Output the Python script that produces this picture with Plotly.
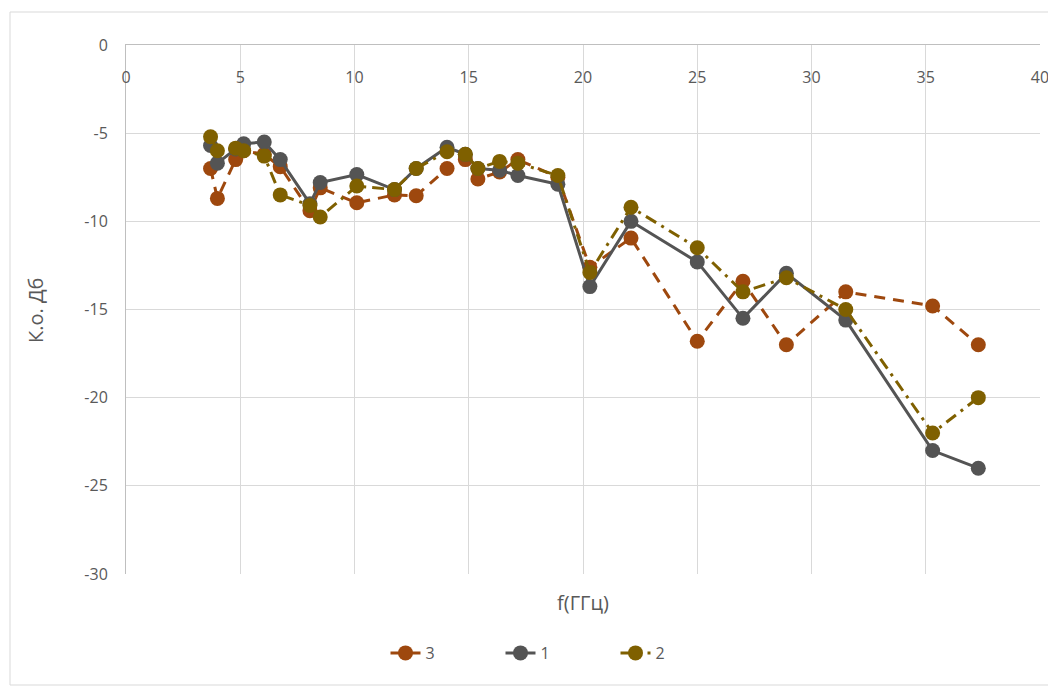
import plotly.graph_objects as go

freq = [3.7, 4.0, 4.8, 5.15, 6.05, 6.75, 8.05, 8.5, 10.1, 11.75, 12.7, 14.05, 14.85,
        15.4, 16.35, 17.15, 18.9, 20.3, 22.1, 25.0, 27.0, 28.9, 31.5, 35.3, 37.3]

s3 = [-7.0, -8.7, -6.5, -6.0, -6.2, -6.9, -9.4, -8.1, -8.95, -8.5, -8.55, -7.0, -6.5,
      -7.6, -7.2, -6.5, -7.5, -12.6, -10.95, -16.8, -13.4, -17.0, -14.0, -14.8, -17.0]
s1 = [-5.7, -6.7, -5.9, -5.6, -5.5, -6.5, -9.0, -7.8, -7.35, -8.2, -7.0, -5.8, -6.2,
      -7.0, -7.1, -7.4, -7.9, -13.7, -10.0, -12.3, -15.5, -12.95, -15.6, -23.0, -24.0]
s2 = [-5.2, -6.0, -5.85, -6.0, -6.3, -8.5, -9.1, -9.75, -8.0, -8.2, -7.0, -6.05, -6.2,
      -7.0, -6.6, -6.7, -7.4, -12.9, -9.2, -11.5, -14.0, -13.2, -15.0, -22.0, -20.0]

names = ["3", "1", "2"]
x_ticks = [0, 5, 10, 15, 20, 25, 30, 35, 40]
y_ticks = [0, -5, -10, -15, -20, -25, -30]
y_ticktext = ["0", "-5", "-10", "-15", "-20", "-25", "-30"]

FONT = "Open Sans"
TXT = "#595959"
fig = go.Figure()
fig.add_trace(go.Scatter(x=freq, y=s3, name=names[0], mode="lines+markers",
                         line=dict(color="#9E480E", width=3, dash="11px,8px"),
                         marker=dict(size=15, color="#9E480E")))
fig.add_trace(go.Scatter(x=freq, y=s1, name=names[1], mode="lines+markers",
                         line=dict(color="#545454", width=3),
                         marker=dict(size=15, color="#545454")))
fig.add_trace(go.Scatter(x=freq, y=s2, name=names[2], mode="lines+markers",
                         line=dict(color="#7F6000", width=3, dash="12px,6px,3px,6px"),
                         marker=dict(size=15, color="#7F6000")))
# invisible trace to carry the label axis (x2)
fig.add_trace(go.Scatter(x=[0, 40], y=[0, 0], xaxis="x2", yaxis="y", mode="markers",
                         marker=dict(opacity=0), showlegend=False, hoverinfo="skip"))

OFF = 8  # page body margin
W, H = 1048, 678
# plot area in screen pixels: x 126..1040, y 45..574
L, T = 126 - OFF, 45 - OFF
R = W - (1040 - OFF)
B = H - (574 - OFF)
pw, ph = W - L - R, H - T - B

def px(xs):
    return (xs - OFF - L) / pw

def py(ys):
    return (H - B - (ys - OFF)) / ph

fig.update_layout(
    width=W, height=H,
    margin=dict(l=L, r=R, t=T, b=B, autoexpand=False),
    paper_bgcolor="white", plot_bgcolor="white",
    font=dict(family=FONT, color=TXT, size=16),
    showlegend=True,
    legend=dict(orientation="h", x=px(558), y=py(653), xanchor="center", yanchor="middle",
                font=dict(size=16, color=TXT), entrywidth=70, entrywidthmode="pixels"),
    xaxis=dict(range=[0, 40], tickvals=x_ticks, side="top", showticklabels=False,
               showgrid=True, gridcolor="#d9d9d9", gridwidth=1, automargin=False,
               showline=True, linecolor="#bfbfbf", linewidth=1, zeroline=False, ticks=""),
    xaxis2=dict(range=[0, 40], tickvals=x_ticks, overlaying="x", anchor="free",
                position=py(66), side="bottom", showgrid=False, showline=False,
                zeroline=False, ticks="", automargin=False,
                tickfont=dict(size=16, color=TXT)),
    yaxis=dict(range=[-30, 0], tickvals=y_ticks, ticktext=y_ticktext, showgrid=True,
               gridcolor="#d9d9d9", gridwidth=1, showline=True, linecolor="#bfbfbf",
               linewidth=1, zeroline=False, ticks="", ticklabelstandoff=14,
               automargin=False, tickfont=dict(size=16, color=TXT)),
    shapes=[dict(type="rect", xref="paper", yref="paper",
                 x0=px(10), x1=px(1049), y0=py(685), y1=py(12),
                 line=dict(color="#d9d9d9", width=1), fillcolor="rgba(0,0,0,0)", layer="below")],
    annotations=[
        dict(text="f(ГГц)", xref="paper", yref="paper", x=px(583), y=py(602),
             showarrow=False, font=dict(size=20, color=TXT),
             xanchor="center", yanchor="middle"),
        dict(text="К.о. Дб", xref="paper", yref="paper", x=px(35), y=py(310),
             showarrow=False, textangle=-90, font=dict(size=20, color=TXT),
             xanchor="center", yanchor="middle"),
    ],
)

fig.write_html("out.html")
